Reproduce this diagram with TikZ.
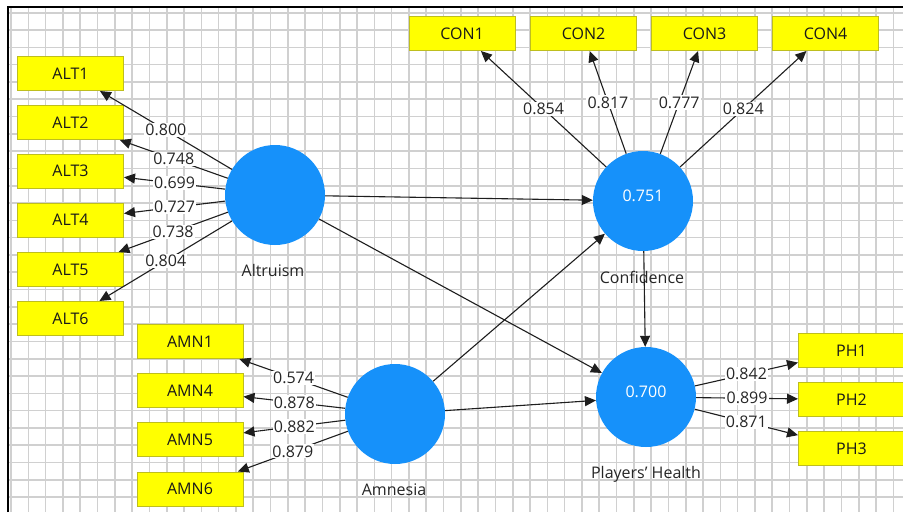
\documentclass[tikz,border=0pt]{standalone}
\usepackage{fontspec}
\setmainfont{Open Sans}
\usetikzlibrary{arrows.meta}
\definecolor{lvblue}{RGB}{22,145,250}
\definecolor{mvyellow}{RGB}{255,255,0}
\definecolor{mvedge}{RGB}{190,190,30}
\definecolor{gridgray}{RGB}{208,208,208}
\definecolor{linegray}{RGB}{30,30,30}
\begin{document}
\begin{tikzpicture}[x=1pt,y=-1pt,
    every node/.style={font=\fontsize{16}{19}\selectfont},
    lv/.style={circle,fill=lvblue,minimum size=100pt,inner sep=0pt,text depth=10pt,text=white},
    mv/.style={rectangle,fill=mvyellow,draw=mvedge,line width=1pt,
        minimum width=106pt,minimum height=34pt,inner sep=0pt,text=black!90},
    lvname/.style={text=black!85},
    coef/.style={fill=white,inner sep=1.2pt,text=black!85},
    arr/.style={draw=linegray,line width=1.1pt,-{Triangle[length=11pt,width=10pt]}}]
    \useasboundingbox (0,0) rectangle (903,512);
    \clip (0,0) rectangle (903,512);
    \fill[white] (0,0) rectangle (903,512);
    \foreach \i in {0,...,51}
        {\draw[gridgray,line width=1.6pt] (11+17.3*\i,7) -- (11+17.3*\i,512);}
    \foreach \j in {0,...,28}
        {\draw[gridgray,line width=1.6pt] (7,12.7+17.3*\j) -- (903,12.7+17.3*\j);}
    \draw[black,line width=2pt] (7.5,512) -- (7.5,6.5) -- (903,6.5);

    \node[lv] (alt) at (275,195) {};
    \node[lv] (con) at (643,201) {0.751};
    \node[lv] (amn) at (395,414) {};
    \node[lv] (ph) at (646,397) {0.700};
    \node[lvname] (altname) at (273,270) {Altruism};
    \node[lvname] (conname) at (642,277) {Confidence};
    \node[lvname] (amnname) at (394,490) {Amnesia};
    \node[lvname] (phname) at (646,474) {Players' Health};

    \foreach \n/\y in {1/73.5,2/122.5,3/171,4/220,5/269.5,6/318.5}
        {\node[mv] (ALT\n) at (70.5,\y) {ALT\n};}
    \foreach \n/\x in {1/462,2/583.5,3/704.5,4/825.5}
        {\node[mv] (CON\n) at (\x,33.5) {CON\n};}
    \foreach \n/\y in {1/341.5,4/390.5,5/439.5,6/489}
        {\node[mv] (AMN\n) at (190,\y) {AMN\n};}
    \foreach \n/\y in {1/350.5,2/399.5,3/448.5}
        {\node[mv] (PH\n) at (851.5,\y) {PH\n};}

    \foreach \n/\v in {1/0.800,2/0.748,3/0.699,4/0.727,5/0.738,6/0.804}
        {\draw[arr] (alt) -- node[coef] {\v} (ALT\n);}
    \foreach \n/\v in {1/0.854,2/0.817,3/0.777,4/0.824}
        {\draw[arr] (con) -- node[coef] {\v} (CON\n);}
    \foreach \n/\v in {1/0.574,4/0.878,5/0.882,6/0.879}
        {\draw[arr] (amn) -- node[coef] {\v} (AMN\n);}
    \foreach \n/\v in {1/0.842,2/0.899,3/0.871}
        {\draw[arr] (ph) -- node[coef] {\v} (PH\n);}

    \draw[arr] (alt) -- (con);
    \draw[arr] (alt) -- (ph);
    \draw[arr] (amn) -- (con);
    \draw[arr] (amn) -- (ph);
    \draw[arr] (con) -- (ph);
\end{tikzpicture}
\end{document}
